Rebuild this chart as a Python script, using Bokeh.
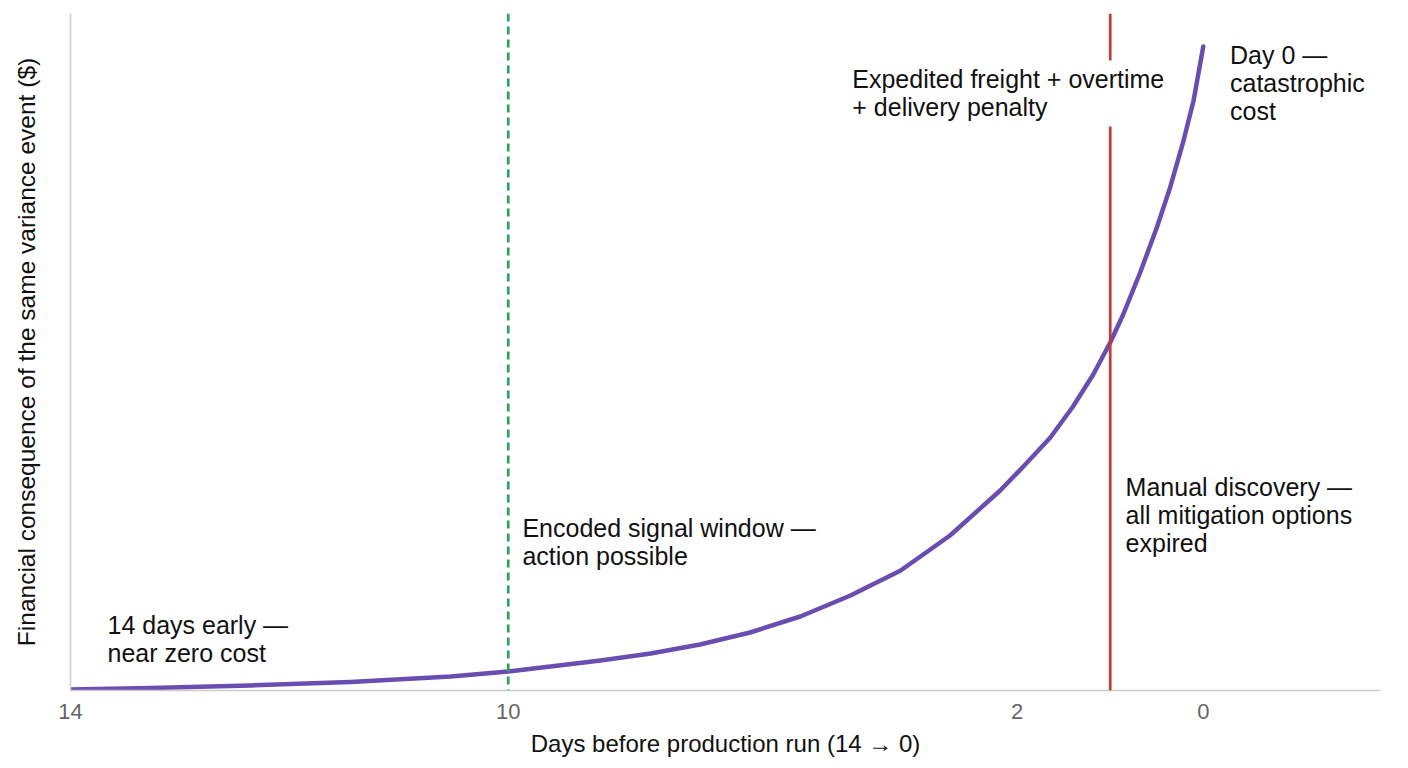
from bokeh.plotting import figure
from bokeh.models import Span, Label, FixedTicker, Range1d
from bokeh.embed import file_html
from bokeh.resources import INLINE

# ---- data ----
# x: position along the 14-day window (0 = 14 days before, 14 = day 0)
days_pos = [0.0, 0.99, 2.22, 3.46, 4.70, 5.41, 5.93, 6.55, 7.17, 7.78, 8.40,
            9.02, 9.64, 10.26, 10.87, 11.49, 11.80, 12.11, 12.39, 12.64,
            12.85, 13.01, 13.22, 13.43, 13.59, 13.75, 13.88, 14.0]
cost_index = [0.15, 0.37, 0.74, 1.26, 2.07, 2.81, 3.55, 4.43, 5.47, 6.79,
              8.57, 10.93, 14.03, 17.73, 22.90, 29.54, 33.38, 37.37, 41.95,
              46.68, 51.40, 55.54, 61.74, 68.54, 74.30, 80.95, 87.15, 95.13]

tick_positions = [0.0, 5.41, 11.70, 14.0]
tick_labels = ["14", "10", "2", "0"]

signal_pos = 5.41     # encoded signal window
manual_pos = 12.85    # manual discovery

X_MAX = 16.19
Y_MAX = 100

FONT = "Liberation Sans"
PURPLE = "#6a4db0"
GREEN = "#2aa35a"
RED = "#c43b3b"
AXIS_GRAY = "#cccccc"

p = figure(width=1408, height=768, output_backend="svg", toolbar_location=None,
           x_range=Range1d(0, X_MAX), y_range=Range1d(0, Y_MAX),
           min_border_left=70, min_border_right=28, min_border_top=13,
           min_border_bottom=78)
p.outline_line_color = None
p.grid.visible = False
p.background_fill_color = "white"
p.border_fill_color = "white"

# x axis
xa = p.xaxis[0]
xa.ticker = FixedTicker(ticks=tick_positions)
xa.major_label_overrides = {pos: lab for pos, lab in zip(tick_positions, tick_labels)}
xa.axis_line_color = AXIS_GRAY
xa.axis_line_width = 1.5
xa.major_tick_line_color = None
xa.minor_tick_line_color = None
xa.major_tick_out = 0
xa.major_tick_in = 0
xa.major_label_standoff = 13
xa.major_label_text_font = FONT
xa.major_label_text_font_size = "22px"
xa.major_label_text_color = "#666666"
xa.axis_label = "Days before production run (14 → 0)"
xa.axis_label_text_font = FONT
xa.axis_label_text_font_size = "24px"
xa.axis_label_text_font_style = "normal"
xa.axis_label_text_color = "#111111"
xa.axis_label_standoff = 8

# y axis
ya = p.yaxis[0]
ya.ticker = FixedTicker(ticks=[])
ya.axis_line_color = AXIS_GRAY
ya.axis_line_width = 1.5
ya.major_tick_line_color = None
ya.minor_tick_line_color = None
ya.major_tick_out = 0
ya.major_tick_in = 0
ya.major_label_standoff = 0
ya.axis_label = "Financial consequence of the same variance event ($)"
ya.axis_label_text_font = FONT
ya.axis_label_text_font_size = "24.5px"
ya.axis_label_text_font_style = "normal"
ya.axis_label_text_color = "#111111"
ya.axis_label_standoff = 31

# event lines
p.add_layout(Span(location=signal_pos, dimension="height", line_color=GREEN,
                  line_width=2.7, line_dash="8 5"))
p.add_layout(Span(location=manual_pos, dimension="height", line_color=RED,
                  line_width=2.7))

# cost curve
p.line(days_pos, cost_index, line_color=PURPLE, line_width=4.5,
       line_join="round", line_cap="round")

def note(x, y, text, bg=None):
    kw = dict(x=x, y=y, text=text, text_font=FONT, text_font_size="25px",
              text_color="#111111", text_align="left", text_baseline="top",
              text_line_height=1.0)
    if bg:
        kw.update(background_fill_color=bg, padding=5)
    p.add_layout(Label(**kw))

note(0.457, 11.67, "14 days early —\nnear zero cost")
note(signal_pos + 0.175, 26.0, "Encoded signal window —\naction possible")
note(manual_pos + 0.19, 32.1, "Manual discovery —\nall mitigation options\nexpired")
note(9.60, 93.06, "Expedited freight + overtime\n+ delivery penalty", bg="white")
note(14.33, 95.9, "Day 0 —\ncatastrophic\ncost")

open("out.html", "w").write(file_html(p, INLINE))
